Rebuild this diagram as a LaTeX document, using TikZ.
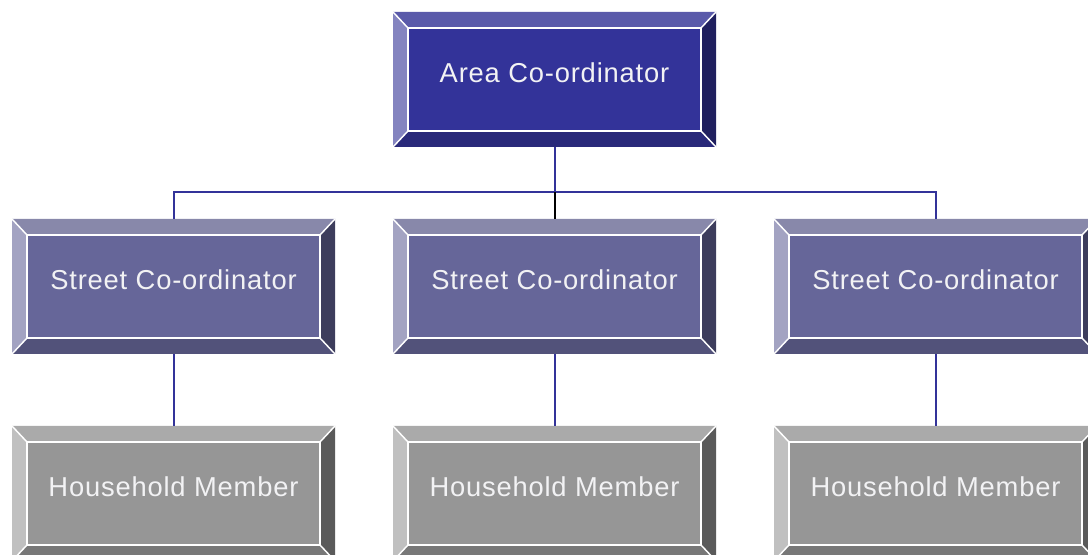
\documentclass[tikz,border=0pt]{standalone}
\usepackage{fontspec}
\usepackage{tikz}
\newfontfamily\boxfont[LetterSpace=3]{Liberation Sans}

\definecolor{areaface}{HTML}{333399}
\definecolor{areatop}{HTML}{5A5AAA}
\definecolor{arealeft}{HTML}{8484C0}
\definecolor{arearight}{HTML}{20205F}
\definecolor{areabot}{HTML}{29297A}
\definecolor{streetface}{HTML}{666699}
\definecolor{streettop}{HTML}{8888AA}
\definecolor{streetleft}{HTML}{A3A3C2}
\definecolor{streetright}{HTML}{3D3D5C}
\definecolor{streetbot}{HTML}{52527A}
\definecolor{houseface}{HTML}{969696}
\definecolor{housetop}{HTML}{AAAAAA}
\definecolor{houseleft}{HTML}{C0C0C0}
\definecolor{houseright}{HTML}{5A5A5A}
\definecolor{housebot}{HTML}{787878}
\definecolor{linkblue}{HTML}{333399}
\definecolor{labelwhite}{HTML}{F2F2F4}

% bevelled box: name, centre x, centre y, text, colour prefix
\newcommand{\bevbox}[5]{%
\fill[#5top] ({#2-161.5},{#3-67.5}) -- ({#2+161.5},{#3-67.5}) -- ({#2+146.5},{#3-51.5}) -- ({#2-146.5},{#3-51.5}) -- cycle;
\fill[#5left] ({#2-161.5},{#3-67.5}) -- ({#2-146.5},{#3-51.5}) -- ({#2-146.5},{#3+51.5}) -- ({#2-161.5},{#3+67.5}) -- cycle;
\fill[#5right] ({#2+161.5},{#3-67.5}) -- ({#2+161.5},{#3+67.5}) -- ({#2+146.5},{#3+51.5}) -- ({#2+146.5},{#3-51.5}) -- cycle;
\fill[#5bot] ({#2-161.5},{#3+67.5}) -- ({#2+161.5},{#3+67.5}) -- ({#2+146.5},{#3+51.5}) -- ({#2-146.5},{#3+51.5}) -- cycle;
\fill[#5face] ({#2-146.5},{#3-51.5}) rectangle ({#2+146.5},{#3+51.5});
\draw[bevline] ({#2-146.5},{#3-51.5}) rectangle ({#2+146.5},{#3+51.5});
\draw[bevline] ({#2-161.5},{#3-67.5}) -- ({#2-146.5},{#3-51.5}) ({#2+161.5},{#3-67.5}) -- ({#2+146.5},{#3-51.5}) ({#2-161.5},{#3+67.5}) -- ({#2-146.5},{#3+51.5}) ({#2+161.5},{#3+67.5}) -- ({#2+146.5},{#3+51.5});
\node[boxlabel] (#1) at (#2,#3) {#4};
}

\begin{document}
\begin{tikzpicture}[x=0.75pt,y=0.75pt,yscale=-1,xscale=1,
  bevline/.style={white, line width=1.1pt},
  boxlabel/.style={minimum width=242.25pt, minimum height=101.25pt, inner sep=0pt,
    text height=15pt, text depth=10pt, text=labelwhite, font=\boxfont\fontsize{20.5pt}{24pt}\selectfont},
  conn/.style={draw=linkblue, line width=1.5pt}]
\clip (0,0) rectangle (1088,555);

% Boxes
\bevbox{area}{554.5}{79.5}{Area Co-ordinator}{area}
\bevbox{streetA}{173.5}{286.5}{Street Co-ordinator}{street}
\bevbox{streetB}{554.5}{286.5}{Street Co-ordinator}{street}
\bevbox{streetC}{935.5}{286.5}{Street Co-ordinator}{street}
\bevbox{houseA}{173.5}{493.5}{Household Member}{house}
\bevbox{houseB}{554.5}{493.5}{Household Member}{house}
\bevbox{houseC}{935.5}{493.5}{Household Member}{house}

% Connectors
\coordinate (bus) at (554.5,192);
\draw[conn] (area.south) -- (bus);
\draw[conn] (bus) -| (streetA.north);
\draw[conn] (bus) -| (streetC.north);
\draw[conn, draw=black] (bus) -- (streetB.north);
\draw[conn] (streetA.south) -- (houseA.north);
\draw[conn] (streetB.south) -- (houseB.north);
\draw[conn] (streetC.south) -- (houseC.north);

\end{tikzpicture}
\end{document}
